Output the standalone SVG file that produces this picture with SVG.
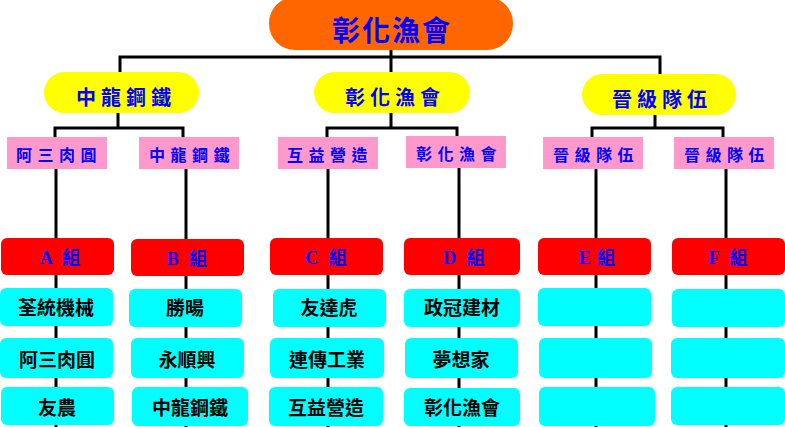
<svg xmlns="http://www.w3.org/2000/svg" width="785" height="427" viewBox="0 0 785 427">
<style>
.ln{fill:none;stroke:#000;stroke-width:3;stroke-linecap:square}
.top{fill:#FF6600}
.yel{fill:#FFFF00}
.pink{fill:#FF99CC}
.red{fill:#FF0000}
.cy{fill:#00FFFF}
.bt{font-family:"Liberation Serif","Noto Sans CJK TC",serif;font-weight:bold;fill:#0000FF;text-anchor:middle}
.ct{font-family:"Noto Sans CJK TC","Liberation Sans",sans-serif;font-weight:bold;fill:#000;text-anchor:middle;font-size:19px}
.gl{font-size:18px}
</style>
<rect width="785" height="427" fill="#fff"/>
<g id="connectors">
<path class="ln" d="M391,50V72M120,57H660M120,57V72M660,57V74"/>
<path class="ln" d="M118,113V128M55,128H183M55,128V137M183,128V137"/>
<path class="ln" d="M391,113V128M327,128H457M327,128V136M457,128V136"/>
<path class="ln" d="M655,115V128M592,128H723M592,128V137M723,128V137"/>
<path class="ln" d="M56,169V427M186,169V427M328,169V427M459,168V427M596,169V427M726,169V427"/>
</g>
<g id="root"><rect class="top" x="269" y="-3" width="244" height="53" rx="26"/><text class="bt" x="392" y="41" font-size="28" letter-spacing="2">彰化漁會</text></g>
<g id="y1"><rect class="yel" x="44" y="72" width="155" height="41" rx="20.5"/><text class="bt" x="126" y="105" font-size="20" letter-spacing="5">中龍鋼鐵</text></g>
<g id="y2"><rect class="yel" x="314" y="72" width="156" height="41" rx="20.5"/><text class="bt" x="395" y="105" font-size="20" letter-spacing="5">彰化漁會</text></g>
<g id="y3"><rect class="yel" x="582" y="74" width="154" height="41" rx="20.5"/><text class="bt" x="662" y="107" font-size="20" letter-spacing="5">晉級隊伍</text></g>
<g id="p1"><rect class="pink" x="7" y="137" width="100" height="32"/><text class="bt" x="59" y="161" font-size="16" letter-spacing="5.5">阿三肉圓</text></g>
<g id="p2"><rect class="pink" x="139" y="137" width="100" height="32"/><text class="bt" x="192" y="161" font-size="16" letter-spacing="5.5">中龍鋼鐵</text></g>
<g id="p3"><rect class="pink" x="278" y="137" width="100" height="32"/><text class="bt" x="330" y="161" font-size="16" letter-spacing="5.5">互益營造</text></g>
<g id="p4"><rect class="pink" x="406" y="136" width="100" height="32"/><text class="bt" x="459" y="160" font-size="16" letter-spacing="5.5">彰化漁會</text></g>
<g id="p5"><rect class="pink" x="543" y="137" width="100" height="32"/><text class="bt" x="596" y="161" font-size="16" letter-spacing="5.5">晉級隊伍</text></g>
<g id="p6"><rect class="pink" x="674" y="137" width="100" height="32"/><text class="bt" x="727" y="161" font-size="16" letter-spacing="5.5">晉級隊伍</text></g>
<g id="gA"><rect class="red" x="1" y="238" width="113" height="37" rx="6"/><text class="bt gl" x="60" y="264" word-spacing="6">A 組</text></g>
<g id="gB"><rect class="red" x="131" y="239" width="113" height="37" rx="6"/><text class="bt gl" x="187" y="265" word-spacing="6">B 組</text></g>
<g id="gC"><rect class="red" x="270" y="238" width="113" height="37" rx="6"/><text class="bt gl" x="326" y="264" word-spacing="6">C 組</text></g>
<g id="gD"><rect class="red" x="404" y="238" width="116" height="37" rx="6"/><text class="bt gl" x="464" y="264" word-spacing="6">D 組</text></g>
<g id="gE"><rect class="red" x="538" y="238" width="113" height="37" rx="6"/><text class="bt gl" x="597" y="264" word-spacing="2">E 組</text></g>
<g id="gF"><rect class="red" x="672" y="238" width="113" height="37" rx="6"/><text class="bt gl" x="728" y="264" word-spacing="6">F 組</text></g>
<g id="a1"><rect class="cy" x="0" y="288" width="113" height="38" rx="6"/><text class="ct" x="56" y="315">荃統機械</text></g>
<g id="a2"><rect class="cy" x="0" y="338" width="113" height="40" rx="6"/><text class="ct" x="57" y="367">阿三肉圓</text></g>
<g id="a3"><rect class="cy" x="1" y="387" width="113" height="38" rx="6"/><text class="ct" x="57" y="415">友農</text></g>
<g id="b1"><rect class="cy" x="129" y="289" width="113" height="38" rx="6"/><text class="ct" x="185" y="315">勝暘</text></g>
<g id="b2"><rect class="cy" x="131" y="338" width="113" height="40" rx="6"/><text class="ct" x="187" y="367">永順興</text></g>
<g id="b3"><rect class="cy" x="132" y="387" width="116" height="39" rx="6"/><text class="ct" x="190" y="415">中龍鋼鐵</text></g>
<g id="c1"><rect class="cy" x="273" y="289" width="113" height="38" rx="6"/><text class="ct" x="329" y="315">友達虎</text></g>
<g id="c2"><rect class="cy" x="270" y="338" width="114" height="40" rx="6"/><text class="ct" x="327" y="367">連傳工業</text></g>
<g id="c3"><rect class="cy" x="269" y="387" width="114" height="39" rx="6"/><text class="ct" x="326" y="415">互益營造</text></g>
<g id="d1"><rect class="cy" x="404" y="289" width="116" height="38" rx="6"/><text class="ct" x="462" y="315">政冠建材</text></g>
<g id="d2"><rect class="cy" x="405" y="338" width="113" height="40" rx="6"/><text class="ct" x="461" y="367">夢想家</text></g>
<g id="d3"><rect class="cy" x="404" y="388" width="116" height="38" rx="6"/><text class="ct" x="462" y="415">彰化漁會</text></g>
<g id="e1"><rect class="cy" x="538" y="288" width="113" height="38" rx="6"/></g>
<g id="e2"><rect class="cy" x="539" y="338" width="113" height="40" rx="6"/></g>
<g id="e3"><rect class="cy" x="539" y="387" width="116" height="39" rx="6"/></g>
<g id="f1"><rect class="cy" x="672" y="289" width="113" height="38" rx="6"/></g>
<g id="f2"><rect class="cy" x="671" y="338" width="114" height="40" rx="6"/></g>
<g id="f3"><rect class="cy" x="671" y="387" width="114" height="38" rx="6"/></g>
</svg>
